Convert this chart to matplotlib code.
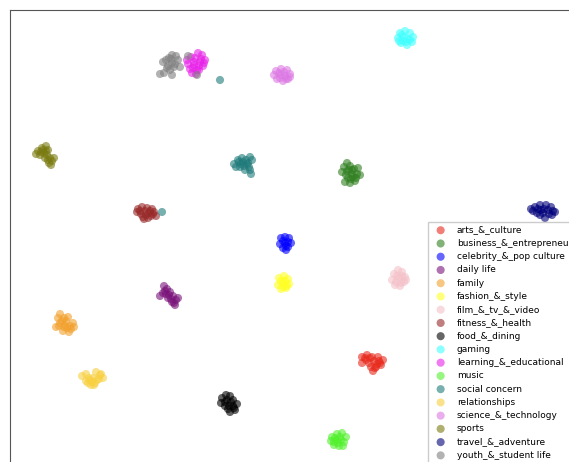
import numpy as np
from matplotlib import pyplot as plt

### t-SNE style scatter of topic embeddings (coords)
labels = ['arts_&_culture', 'business_&_entrepreneurs', 'celebrity_&_pop culture',
          'daily life', 'family', 'fashion_&_style', 'film_&_tv_&_video',
          'fitness_&_health', 'food_&_dining', 'gaming', 'learning_&_educational',
          'music', 'social concern', 'relationships', 'science_&_technology',
          'sports', 'travel_&_adventure', 'youth_&_student life']
colors = ['#e82a1c', '#2f7f1f', '#0000ff', '#7a137a', '#f2a02c', '#ffff20',
          '#f4c0c8', '#982828', '#000000', '#40ffff', '#e820e8', '#50f02a',
          '#1f7a7a', '#f8d040', '#dc78e4', '#7a7a10', '#00007a', '#808080']

arts_x = [362, 367, 372, 378, 383, 381, 376, 371, 369, 362, 373, 377,
          366, 374, 379, 370, 375, 380, 365]
arts_y = [357, 355, 357, 357, 360, 365, 367, 367, 363, 363, 371, 364,
          360, 361, 361, 358, 368, 363, 358]
business_x = [344, 347, 350, 354, 357, 352, 348, 345, 350, 355, 360, 342, 358,
              349, 353, 346, 351, 356, 347, 352]
business_y = [167, 163, 166, 169, 174, 174, 178, 182, 183, 181, 175, 172, 168,
              170, 177, 175, 179, 178, 171, 170]
celebrity_x = [281, 285, 289, 291, 288, 283, 280, 285, 286, 283, 288, 286]
celebrity_y = [238, 237, 238, 243, 247, 248, 244, 243, 250, 241, 242, 246]
daily_x = [164, 165, 160, 166, 170, 173, 176, 172, 175, 168, 178,
           167, 171, 174, 163, 169]
daily_y = [286, 291, 296, 294, 292, 296, 300, 302, 305, 298, 298,
           289, 299, 303, 293, 295]
family_x = [58, 60, 64, 68, 73, 70, 65, 60, 56, 63, 69, 74,
            62, 66, 71, 59, 67, 64]
family_y = [318, 314, 318, 317, 323, 326, 325, 323, 327, 331, 332, 327,
            321, 321, 329, 326, 328, 327]
fashion_x = [279, 284, 288, 289, 286, 281, 278, 283, 285, 281, 287, 283]
fashion_y = [278, 276, 279, 284, 288, 289, 285, 283, 281, 281, 286, 287]
film_x = [394, 398, 402, 405, 404, 400, 395, 392, 399, 406,
          397, 402, 396, 401]
film_y = [274, 270, 272, 277, 282, 286, 285, 280, 278, 280,
          276, 276, 282, 283]
fitness_x = [138, 142, 147, 150, 154, 151, 146, 141, 137, 144, 156,
             140, 145, 149, 152, 143, 148, 153]
fitness_y = [209, 207, 208, 211, 212, 216, 215, 214, 212, 219, 216,
             211, 211, 213, 209, 217, 218, 214]
food_x = [222, 226, 230, 233, 237, 234, 229, 225, 221, 230, 235,
          227, 231, 228, 233, 225]
food_y = [398, 395, 396, 400, 404, 408, 406, 406, 403, 412, 410,
          400, 402, 409, 406, 402]
gaming_x = [400, 405, 410, 413, 412, 407, 401, 398, 404, 408, 403,
            402, 410, 406, 399]
gaming_y = [33, 31, 33, 37, 42, 45, 43, 38, 37, 39, 41,
            35, 40, 42, 41]
learning_x = [191, 198, 202, 205, 200, 194, 188, 193, 199, 203, 192, 196, 187,
              195, 201, 190, 197, 204, 194, 199]
learning_y = [57, 53, 55, 60, 62, 62, 64, 68, 66, 66, 73, 74, 60,
              58, 59, 69, 70, 63, 65, 70]
music_x = [332, 337, 342, 346, 344, 339, 334, 331, 337, 341,
           335, 340, 343, 338, 334]
music_y = [437, 434, 433, 437, 442, 446, 445, 441, 440, 440,
           438, 437, 446, 443, 442]
social_x = [234, 239, 242, 246, 250, 248, 244, 240, 238, 250, 251, 252, 245,
            236, 243, 247, 241, 249, 220, 162]
social_y = [164, 162, 158, 160, 157, 163, 166, 167, 160, 170, 174, 160, 170,
            167, 162, 164, 164, 167, 80, 212]
relation_x = [82, 86, 89, 92, 94, 97, 100, 96, 103, 90, 86,
              93, 99, 101, 95, 88, 91]
relation_y = [376, 374, 378, 382, 385, 380, 375, 372, 378, 380, 381,
              378, 379, 374, 383, 383, 385]
science_x = [276, 281, 287, 290, 288, 283, 277, 274, 281, 285,
             279, 284, 286, 280, 290]
science_y = [71, 69, 70, 74, 79, 81, 79, 75, 75, 76,
             73, 72, 79, 78, 77]
sports_x = [38, 42, 46, 48, 44, 40, 47, 50, 52, 54, 49, 45,
            36, 43, 46, 51, 48, 41]
sports_y = [151, 148, 146, 150, 153, 155, 155, 158, 161, 158, 163, 158,
            154, 150, 151, 165, 160, 152]
travel_x = [535, 540, 546, 551, 553, 549, 543, 537, 533, 545, 541, 555,
            538, 544, 548, 552, 540, 531]
travel_y = [207, 205, 205, 207, 211, 214, 213, 213, 211, 218, 210, 212,
            209, 209, 210, 215, 215, 209]
youth_x = [166, 172, 176, 178, 172, 168, 170, 164, 172, 160, 163, 180, 174,
           169, 175, 167, 171, 188, 197]
youth_y = [60, 55, 56, 60, 63, 66, 70, 73, 75, 74, 62, 67, 67,
           58, 64, 68, 59, 56, 75]

xs = [arts_x, business_x, celebrity_x, daily_x, family_x, fashion_x, film_x,
      fitness_x, food_x, gaming_x, learning_x, music_x, social_x, relation_x,
      science_x, sports_x, travel_x, youth_x]
ys = [arts_y, business_y, celebrity_y, daily_y, family_y, fashion_y, film_y,
      fitness_y, food_y, gaming_y, learning_y, music_y, social_y, relation_y,
      science_y, sports_y, travel_y, youth_y]

fig = plt.figure(figsize=(5.69, 4.62), dpi=100)
# the original axes is bigger than the saved crop, so it runs off right/bottom
ax = fig.add_axes([10 / 569, (462 - 490) / 462, 600 / 569, 480 / 462])

for lab, c, x, y in zip(labels, colors, xs, ys):
    ax.scatter(x, y, s=34, color=c, alpha=0.6, label=lab, edgecolors='none')

ax.set_xlim(10, 610)
ax.set_ylim(490, 10)
ax.set_xticks([])
ax.set_yticks([])
for sp in ax.spines.values():
    sp.set_color('#555555')

ax.legend(loc='upper left', bbox_to_anchor=(428 / 569, 1 - 222 / 462),
          bbox_transform=fig.transFigure, fontsize=6.5, borderaxespad=0,
          labelspacing=0.47, handletextpad=0.8, framealpha=1,
          edgecolor='#cccccc', fancybox=False)

fig.savefig('out.png', dpi=100)
